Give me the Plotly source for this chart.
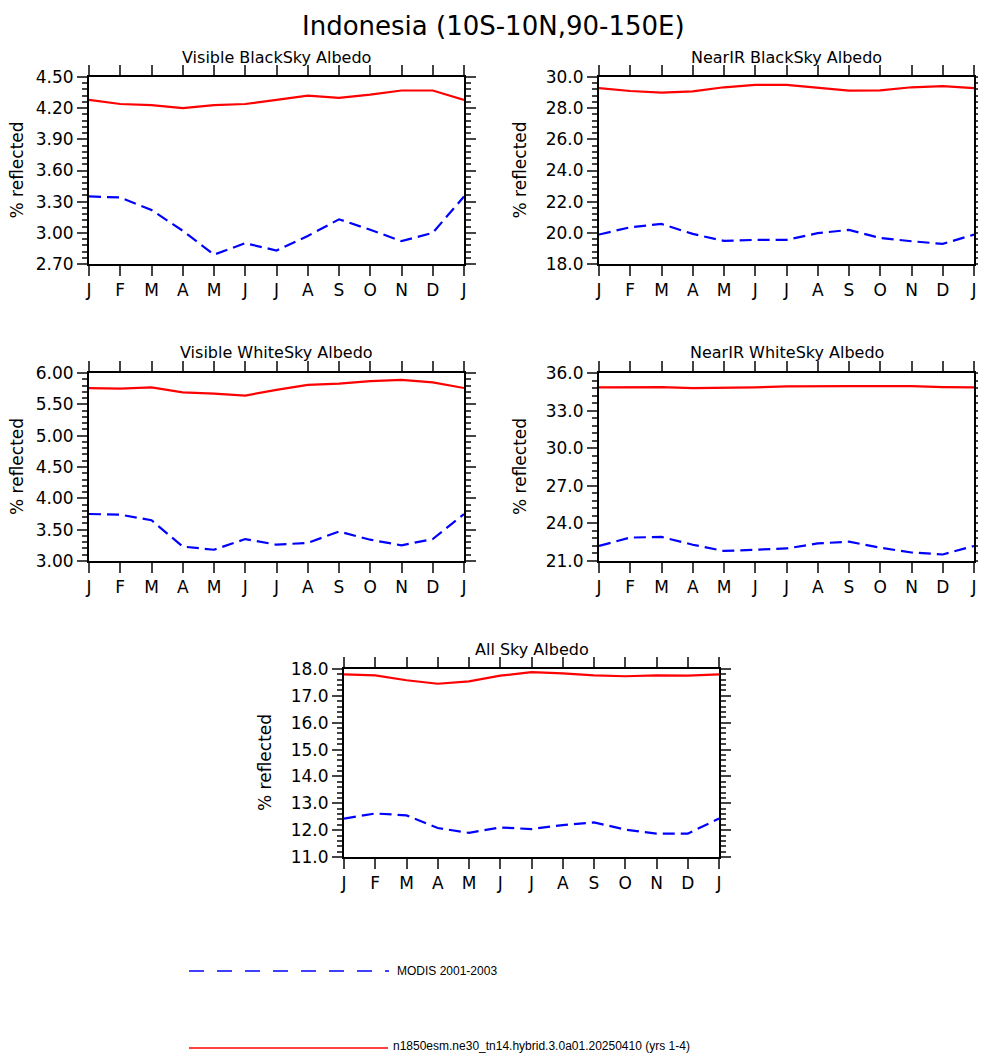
import plotly.graph_objects as go

# page body has an 8px margin; the figure fills the window from there on
W, H = 978, 1048
OFF = 8

months = ["J", "F", "M", "A", "M", "J", "J", "A", "S", "O", "N", "D", "J"]
xpos = list(range(13))

# model (red) and MODIS (blue) monthly albedo, % reflected
vis_bs_model = [4.28, 4.24, 4.23, 4.20, 4.23, 4.24, 4.28, 4.32, 4.30, 4.33, 4.37, 4.37, 4.28]
vis_bs_modis = [3.35, 3.34, 3.22, 3.02, 2.79, 2.90, 2.83, 2.97, 3.13, 3.03, 2.92, 3.00, 3.35]
nir_bs_model = [29.29, 29.10, 29.00, 29.08, 29.34, 29.50, 29.49, 29.30, 29.12, 29.14, 29.34, 29.42, 29.29]
nir_bs_modis = [19.89, 20.36, 20.57, 19.93, 19.48, 19.55, 19.55, 19.98, 20.19, 19.67, 19.46, 19.29, 19.89]
vis_ws_model = [5.76, 5.75, 5.77, 5.69, 5.67, 5.64, 5.73, 5.81, 5.83, 5.87, 5.89, 5.85, 5.76]
vis_ws_modis = [3.75, 3.74, 3.65, 3.23, 3.18, 3.35, 3.26, 3.29, 3.47, 3.34, 3.25, 3.35, 3.75]
nir_ws_model = [34.85, 34.87, 34.88, 34.80, 34.80, 34.85, 34.93, 34.96, 34.96, 34.96, 34.96, 34.88, 34.85]
nir_ws_modis = [22.20, 22.87, 22.92, 22.30, 21.80, 21.90, 22.00, 22.40, 22.54, 22.06, 21.68, 21.52, 22.20]
all_model = [17.80, 17.76, 17.58, 17.45, 17.54, 17.75, 17.88, 17.84, 17.76, 17.73, 17.76, 17.75, 17.80]
all_modis = [12.43, 12.62, 12.55, 12.08, 11.90, 12.10, 12.04, 12.19, 12.29, 12.02, 11.87, 11.87, 12.43]

model_name = "n1850esm.ne30_tn14.hybrid.3.0a01.20250410 (yrs 1-4)"
obs_name = "MODIS 2001-2003"

# panel: title, model, obs, (ymin, ymax), dtick, minor, fmt, box in window pixels (x0, x1, ytop, ybot)
panels = [
    ("Visible BlackSky Albedo", vis_bs_model, vis_bs_modis, (2.7, 4.5), 0.3, 0.06, ".2f", (89, 464, 77, 264)),
    ("NearIR BlackSky Albedo", nir_bs_model, nir_bs_modis, (18, 30), 2, 0.4, ".1f", (599, 974, 77, 264)),
    ("Visible WhiteSky Albedo", vis_ws_model, vis_ws_modis, (3, 6), 0.5, 0.1, ".2f", (89, 464, 373, 561)),
    ("NearIR WhiteSky Albedo", nir_ws_model, nir_ws_modis, (21, 36), 3, 0.6, ".1f", (599, 974, 373, 561)),
    ("All Sky Albedo", all_model, all_modis, (11, 18), 1, 0.2, ".1f", (344, 719, 669, 857)),
]


def px(x):
    return (x - OFF) / W


def py(y):
    return 1 - (y - OFF) / H


FONT = "DejaVu Sans"
fig = go.Figure()
annotations = []
layout = {}

for i, (title, mod, obs, yr, dt, mdt, fmt, box) in enumerate(panels, start=1):
    x0, x1, yt, yb = box
    sfx = "" if i == 1 else str(i)
    fig.add_trace(go.Scatter(x=xpos, y=mod, mode="lines", line=dict(color="red", width=2.2),
                             xaxis="x" + sfx, yaxis="y" + sfx, showlegend=False))
    fig.add_trace(go.Scatter(x=xpos, y=obs, mode="lines", line=dict(color="blue", width=2.2, dash="12px,6px"),
                             xaxis="x" + sfx, yaxis="y" + sfx, showlegend=False))
    layout["xaxis" + sfx] = dict(
        domain=[px(x0), px(x1)], anchor="y" + sfx, range=[0, 12], automargin=False,
        tickvals=xpos, ticktext=months, ticks="outside", ticklen=10, tickwidth=2,
        showline=True, linewidth=2, linecolor="black", mirror="ticks",
        showgrid=False, zeroline=False, tickfont=dict(family=FONT, size=17, color="black"),
    )
    layout["yaxis" + sfx] = dict(
        domain=[py(yb), py(yt)], anchor="x" + sfx, range=list(yr), automargin=False,
        tick0=yr[0], dtick=dt, tickformat=fmt, ticks="outside", ticklen=10, tickwidth=2,
        minor=dict(ticks="outside", ticklen=5, tickwidth=1.5, dtick=mdt, tick0=yr[0], showgrid=False),
        showline=True, linewidth=2, linecolor="black", mirror="ticks",
        showgrid=False, zeroline=False, tickfont=dict(family=FONT, size=17, color="black"),
    )
    annotations.append(dict(text=title, x=px((x0 + x1) / 2), y=py(yt - 20), xref="paper", yref="paper",
                            xanchor="center", yanchor="middle", showarrow=False,
                            font=dict(family=FONT, size=16, color="black")))
    annotations.append(dict(text="% reflected", x=px(max(x0 - 79, 17)), y=py((yt + yb) / 2), xref="paper",
                            yref="paper", xanchor="center", yanchor="middle", textangle=-90, showarrow=False,
                            font=dict(family=FONT, size=17, color="black")))

annotations.append(dict(text="Indonesia (10S-10N,90-150E)", x=px(493), y=py(26), xref="paper", yref="paper",
                        xanchor="center", yanchor="middle", showarrow=False,
                        font=dict(family=FONT, size=26, color="black")))

# legend at the bottom
shapes = [
    dict(type="line", xref="paper", yref="paper", x0=px(189), x1=px(389), y0=py(971), y1=py(971),
         line=dict(color="blue", width=1.5, dash="15px,13px")),
    dict(type="line", xref="paper", yref="paper", x0=px(189), x1=px(388), y0=py(1048), y1=py(1048),
         line=dict(color="red", width=1.5)),
]
annotations.append(dict(text=obs_name, x=px(395), y=py(971), xref="paper", yref="paper", xanchor="left",
                        yanchor="middle", showarrow=False,
                        font=dict(family="Liberation Sans", size=12, color="black")))
annotations.append(dict(text=model_name, x=px(391), y=py(1046), xref="paper", yref="paper", xanchor="left",
                        yanchor="middle", showarrow=False,
                        font=dict(family="Liberation Sans", size=12, color="black")))

fig.update_layout(
    width=W, height=H, margin=dict(l=0, r=0, t=0, b=0, autoexpand=False),
    paper_bgcolor="white", plot_bgcolor="white",
    annotations=annotations, shapes=shapes, showlegend=False,
    **layout,
)

fig.write_html("out.html")
